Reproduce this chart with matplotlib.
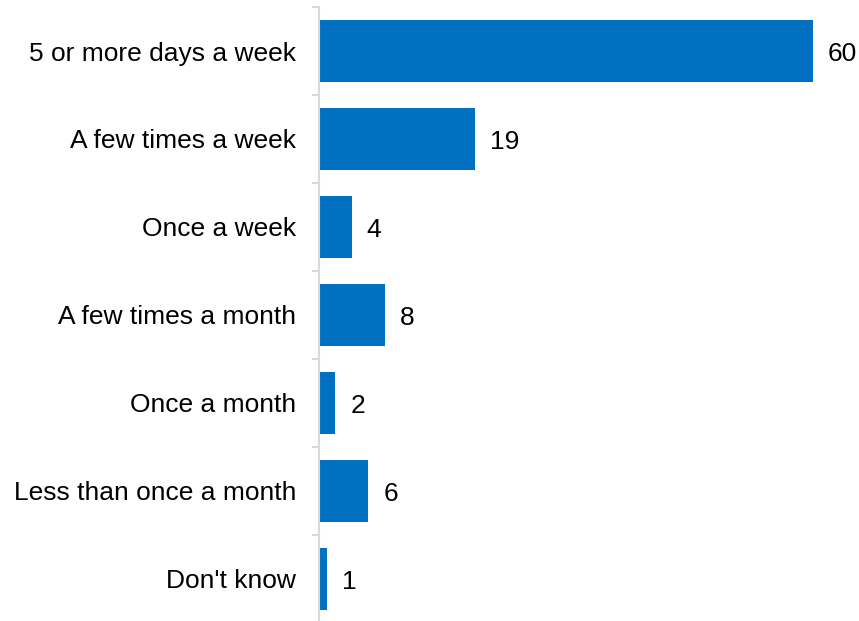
import matplotlib
matplotlib.use("Agg")
import matplotlib.pyplot as plt

categories = [
    "5 or more days a week",
    "A few times a week",
    "Once a week",
    "A few times a month",
    "Once a month",
    "Less than once a month",
    "Don't know",
]
values = [60, 19, 4, 8, 2, 6, 1]

plt.rcParams["font.family"] = ["Liberation Sans", "DejaVu Sans"]

W, H = 859, 621
fig = plt.figure(figsize=(W / 100, H / 100), dpi=100)
left, right = 319 / W, 854 / W
top, bottom = 7 / H, 623 / H
ax = fig.add_axes([left, 1 - bottom, right - left, bottom - top])

n = len(categories)
ypos = list(range(n))
ax.barh(ypos, values, height=0.7, color="#0070C0")
ax.set_ylim(n - 0.5, -0.5)
ax.set_xlim(0, 65)

for y, v in zip(ypos, values):
    ax.text(v + 1.8, y + 0.03, f"{v}", va="center", ha="left", fontsize=19, color="#000000")

ax.set_yticks(ypos)
ax.set_yticklabels(categories, fontsize=19)
ax.tick_params(axis="y", length=0, pad=16.5)
ax.set_yticks([i - 0.5 for i in range(n + 1)], minor=True)
ax.tick_params(axis="y", which="minor", length=5, width=1.5, color="#d9d9d9")
ax.set_xticks([])

for s in ["top", "right", "bottom"]:
    ax.spines[s].set_visible(False)
ax.spines["left"].set_color("#d9d9d9")
ax.spines["left"].set_linewidth(1.5)

fig.savefig("out.png", dpi=100)
